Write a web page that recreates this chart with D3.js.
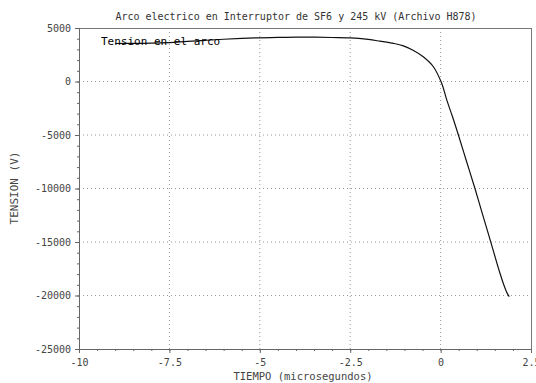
<!DOCTYPE html>
<html><head><meta charset="utf-8">
<script src="https://cdn.jsdelivr.net/npm/d3@7"></script>
<style>body{margin:0;background:#fff}svg{display:block}</style>
</head><body>
<script>
const title = "Arco electrico en Interruptor de SF6 y 245 kV (Archivo H878)";
const xLabel = "TIEMPO (microsegundos)";
const yLabel = "TENSION (V)";
const seriesName = "Tension en el arco";
const xTicks = [-10, -7.5, -5, -2.5, 0, 2.5];
const xTickLabels = ["-10", "-7.5", "-5", "-2.5", "0", "2.5"];
const yTicks = [5000, 0, -5000, -10000, -15000, -20000, -25000];
const tiempo = [-9.0,-8.5,-8.0,-7.5,-7.0,-6.5,-6.0,-5.5,-5.0,-4.5,-4.0,-3.5,-3.0,-2.5,-2.0,-1.68,-1.3,-1.03,-0.75,-0.48,-0.2,0.03,0.17,0.33,0.49,0.72,0.95,1.15,1.37,1.64,1.78,1.85,1.90];
const tension = [3550,3560,3580,3640,3750,3850,3950,4030,4080,4120,4150,4140,4110,4080,3930,3770,3560,3330,2900,2310,1380,-170,-1720,-3300,-4980,-7500,-10000,-12300,-14800,-17900,-19300,-19850,-20100];

const W = 536, H = 383;
const m = {l:79, r:531, t:28, b:349};
const svg = d3.select("body").append("svg").attr("width", W).attr("height", H);
const x = d3.scaleLinear().domain([-10, 2.5]).range([m.l, m.r]);
const y = d3.scaleLinear().domain([-25000, 5000]).range([m.b, m.t]);
const mono = "'DejaVu Sans Mono', monospace";

// grid
svg.append("g").selectAll("line").data(xTicks.slice(1, -1)).join("line")
  .attr("x1", d => x(d)).attr("x2", d => x(d)).attr("y1", m.t).attr("y2", m.b)
  .attr("stroke", "#999").attr("stroke-dasharray", "1,3");
svg.append("g").selectAll("line").data(yTicks.slice(1, -1)).join("line")
  .attr("y1", d => y(d)).attr("y2", d => y(d)).attr("x1", m.l).attr("x2", m.r)
  .attr("stroke", "#999").attr("stroke-dasharray", "1,3");

// frame top/right
svg.append("line").attr("x1", m.l).attr("x2", m.r).attr("y1", m.t + 0.5).attr("y2", m.t + 0.5).attr("stroke", "#777");
svg.append("line").attr("x1", m.r + 0.5).attr("x2", m.r + 0.5).attr("y1", m.t).attr("y2", m.b).attr("stroke", "#777");

// axes
const xMinor = d3.range(-10, 2.51, 0.5);
const xAxisMinor = d3.axisBottom(x).tickValues(xMinor).tickSize(2).tickFormat("");
const xAxis = d3.axisBottom(x).tickValues(xTicks).tickSize(4).tickFormat((d, i) => xTickLabels[i]);
const gxm = svg.append("g").attr("transform", `translate(0,${m.b})`).call(xAxisMinor);
const gx = svg.append("g").attr("transform", `translate(0,${m.b})`).call(xAxis);
const yMinor = d3.range(-25000, 5001, 1000);
const yAxisMinor = d3.axisLeft(y).tickValues(yMinor).tickSize(2).tickFormat("");
const yAxis = d3.axisLeft(y).tickValues(yTicks).tickSize(4).tickFormat(d => String(d));
const gym = svg.append("g").attr("transform", `translate(${m.l},0)`).call(yAxisMinor);
const gy = svg.append("g").attr("transform", `translate(${m.l},0)`).call(yAxis);
[gx, gy, gxm, gym].forEach(g => {
  g.selectAll("path,line").attr("stroke", "#666");
  g.selectAll("text").attr("fill", "#444").attr("font-family", mono).attr("font-size", 10);
});
gx.selectAll("text").attr("dy", "0.95em");
gy.selectAll("text").attr("dx", "-1");

// line
const line = d3.line().x((d, i) => x(tiempo[i])).y(d => y(d)).curve(d3.curveCatmullRom.alpha(0.5));
svg.append("path").datum(tension).attr("d", line).attr("fill", "none")
  .attr("stroke", "#111").attr("stroke-width", 1.2);

// series label
svg.append("text").attr("x", 101).attr("y", 45).attr("font-family", mono).attr("font-size", 11)
  .attr("fill", "#000").text(seriesName);

// title
svg.append("text").attr("x", 296).attr("y", 20).attr("text-anchor", "middle")
  .attr("font-family", mono).attr("font-size", 10).attr("fill", "#333").text(title);
// x label
svg.append("text").attr("x", 303).attr("y", 380).attr("text-anchor", "middle")
  .attr("font-family", mono).attr("font-size", 10.5).attr("fill", "#444").text(xLabel);
// y label
svg.append("text").attr("transform", "translate(18,188) rotate(-90)").attr("text-anchor", "middle")
  .attr("font-family", mono).attr("font-size", 11).attr("fill", "#444").text(yLabel);
</script>
</body></html>
